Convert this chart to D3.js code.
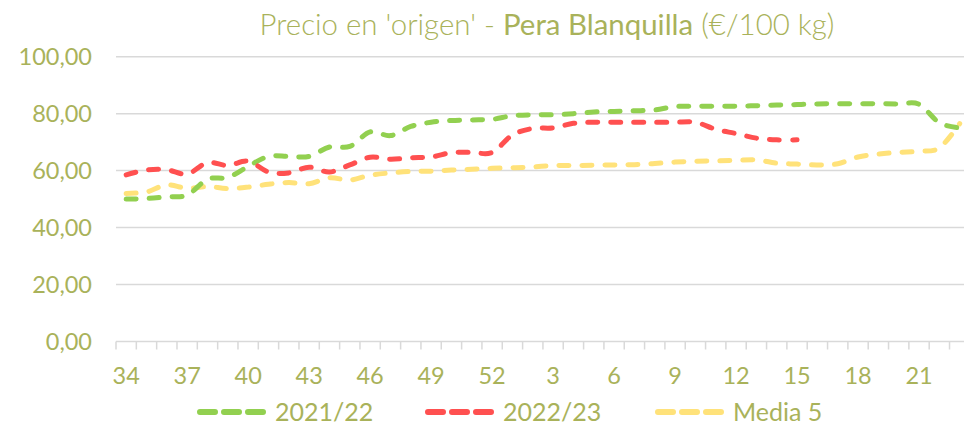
<!DOCTYPE html>
<html>
<head>
<meta charset="utf-8">
<script src="https://cdn.jsdelivr.net/npm/d3@7"></script>
<style>
  html, body { margin: 0; padding: 0; background: #ffffff; }
  svg { display: block; }
  text { font-family: Lato, "Open Sans", sans-serif; }
</style>
</head>
<body>
<svg id="chart" width="964" height="427"></svg>
<script>
// Semanas de campaña (34 → 52, 1 → 23)
const weeks = [34,35,36,37,38,39,40,41,42,43,44,45,46,47,48,49,50,51,52,
               1,2,3,4,5,6,7,8,9,10,11,12,13,14,15,16,17,18,19,20,21,22,23];

const tickLabels = ["34","37","40","43","46","49","52","3","6","9","12","15","18","21"];

const yTicks = [0, 20, 40, 60, 80, 100];

// Precio (€/100 kg)
const season2122 = [50.0,50.2,50.8,51.4,57.0,57.6,61.5,65.0,65.0,65.0,68.3,68.5,73.6,72.3,75.5,77.0,77.6,77.8,78.0,
                    79.3,79.6,79.6,80.0,80.6,80.8,81.0,81.3,82.5,82.6,82.6,82.6,82.8,83.0,83.2,83.4,83.5,83.5,83.5,83.4,83.3,76.8,75.0];

const season2223 = [58.5,60.2,60.3,58.8,62.8,61.8,63.3,59.5,59.2,61.2,59.5,62.0,64.7,64.0,64.5,64.8,66.3,66.4,66.4,
                    72.5,74.8,75.0,76.6,77.0,77.0,77.0,77.0,77.0,77.0,74.5,73.0,71.4,70.8,70.8,
                    null,null,null,null,null,null,null,null];

const media5 = [52.0,52.5,55.0,53.8,54.4,53.7,54.2,55.2,55.8,55.4,57.5,56.7,58.4,59.2,59.7,59.8,60.2,60.5,60.8,
                61.0,61.3,61.8,61.8,61.9,62.0,62.1,62.5,63.0,63.3,63.4,63.6,63.8,62.6,62.3,62.0,62.4,64.8,65.8,66.4,66.8,68.0,76.5];

const seriesNames = ["2021/22", "2022/23", "Media 5"];
const seriesColors = ["#92d050", "#ff5050", "#ffe27a"];
const seriesValues = [season2122, season2223, media5];

const textColor = "#a9b25a";
const gridColor = "#d9d9d9";

const svg = d3.select("#chart");
svg.append("rect").attr("width", 964).attr("height", 427).attr("fill", "#ffffff");

const left = 116, step = 20.33;
const x = d3.scaleBand()
  .domain(d3.range(weeks.length))
  .range([left, left + step * weeks.length])
  .padding(0);

const y = d3.scaleLinear().domain([0, 100]).range([341.5, 56.7]);

// Líneas de cuadrícula horizontales
svg.append("g")
  .selectAll("line")
  .data(yTicks.filter(d => d > 0))
  .join("line")
  .attr("x1", left).attr("x2", 964)
  .attr("y1", d => y(d)).attr("y2", d => y(d))
  .attr("stroke", gridColor).attr("stroke-width", 1.5);

// Etiquetas del eje Y
svg.append("g")
  .selectAll("text")
  .data(yTicks)
  .join("text")
  .attr("x", 92)
  .attr("y", d => y(d))
  .attr("dy", "0.36em")
  .attr("text-anchor", "end")
  .attr("font-size", 23.5)
  .attr("fill", textColor)
  .text(d => d3.format(".2f")(d).replace(".", ","));

// Eje X: línea base y marcas entre categorías
const xAxis = svg.append("g");
xAxis.append("line")
  .attr("x1", left).attr("x2", 964)
  .attr("y1", y(0)).attr("y2", y(0))
  .attr("stroke", gridColor).attr("stroke-width", 1.5);
xAxis.selectAll("line.tick")
  .data(d3.range(weeks.length + 1))
  .join("line")
  .attr("class", "tick")
  .attr("x1", i => left + i * x.step()).attr("x2", i => left + i * x.step())
  .attr("y1", y(0)).attr("y2", y(0) + 8)
  .attr("stroke", gridColor).attr("stroke-width", 1.5);

xAxis.selectAll("text")
  .data(weeks.map((w, i) => ({ w, i })).filter(d => tickLabels.includes(String(d.w))))
  .join("text")
  .attr("x", d => x(d.i) + x.bandwidth() / 2)
  .attr("y", 384)
  .attr("text-anchor", "middle")
  .attr("font-size", 23.5)
  .attr("fill", textColor)
  .text(d => d.w);

// Series (línea suavizada y discontinua)
const line = d3.line()
  .defined(d => d != null)
  .x((d, i) => x(i) + x.bandwidth() / 2)
  .y(d => y(d))
  .curve(d3.curveCatmullRom.alpha(0));

const plot = svg.append("g");
// Orden de dibujo: media al fondo, campañas encima
[2, 0, 1].forEach(k => {
  plot.append("path")
    .datum(seriesValues[k])
    .attr("d", line)
    .attr("fill", "none")
    .attr("stroke", seriesColors[k])
    .attr("stroke-width", 5)
    .attr("stroke-linecap", "round")
    .attr("stroke-dasharray", "10 13");
});

// Título
const title = svg.append("text")
  .attr("x", 547)
  .attr("y", 35)
  .attr("text-anchor", "middle")
  .attr("font-size", 28)
  .attr("fill", textColor);
title.append("tspan").attr("font-weight", 300).text("Precio en 'origen' - ");
title.append("tspan").attr("font-weight", 400).text("Pera Blanquilla");
title.append("tspan").attr("font-weight", 300).text(" (€/100 kg)");
const tw = title.node().getComputedTextLength();
title.attr("font-size", 28 * 575 / tw);

// Leyenda
const legendX = [197, 425, 655];
const legend = svg.append("g");
seriesNames.forEach((name, k) => {
  const g = legend.append("g");
  g.append("line")
    .attr("x1", legendX[k] + 3).attr("x2", legendX[k] + 66)
    .attr("y1", 412).attr("y2", 412)
    .attr("stroke", seriesColors[k])
    .attr("stroke-width", 6)
    .attr("stroke-linecap", "round")
    .attr("stroke-dasharray", "15 9");
  g.append("text")
    .attr("x", legendX[k] + 78)
    .attr("y", 412)
    .attr("dy", "0.36em")
    .attr("font-size", 25)
    .attr("fill", textColor)
    .text(name);
});
</script>
</body>
</html>
